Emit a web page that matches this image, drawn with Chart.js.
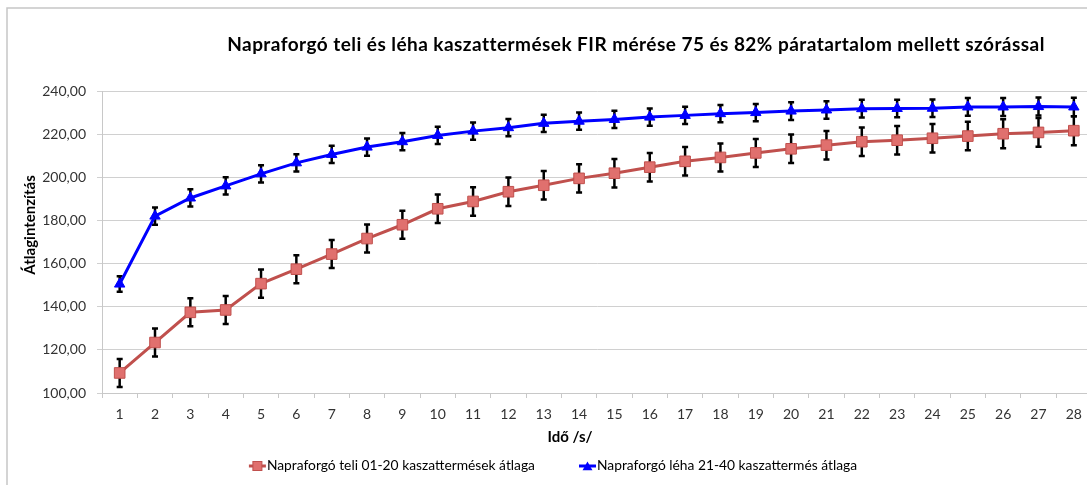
<!DOCTYPE html>
<html>
<head>
<meta charset="utf-8">
<script src="https://cdn.jsdelivr.net/npm/chart.js@4.4.0/dist/chart.umd.min.js"></script>
<style>
html, body { margin: 0; padding: 0; background: #fff; overflow: hidden; }
#wrap { width: 1100px; height: 485px; }
</style>
</head>
<body>
<div id="wrap"><canvas id="firChart" width="1100" height="485"></canvas></div>
<script>
// Napraforgó FIR mérés - chart data
const categories = ['1', '2', '3', '4', '5', '6', '7', '8', '9', '10', '11', '12', '13', '14',
    '15', '16', '17', '18', '19', '20', '21', '22', '23', '24', '25', '26', '27', '28'];

const teliValues = [109.3, 123.4, 137.4, 138.5, 150.7, 157.4, 164.4, 171.6, 178.0, 185.4,
    188.8, 193.3, 196.3, 199.5, 201.9, 204.7, 207.4, 209.2, 211.3, 213.2,
    214.9, 216.5, 217.2, 218.1, 219.1, 220.2, 220.8, 221.6];
const teliErrors = [6.5, 6.5, 6.5, 6.5, 6.6, 6.5, 6.5, 6.5, 6.5, 6.6,
    6.6, 6.6, 6.6, 6.6, 6.6, 6.6, 6.6, 6.5, 6.5, 6.6,
    6.6, 6.6, 6.6, 6.6, 6.6, 6.7, 6.7, 6.7];

const lehaValues = [150.5, 182.0, 190.4, 196.0, 201.6, 206.7, 210.6, 214.0, 216.5, 219.4,
    221.4, 223.0, 225.0, 226.0, 226.8, 227.9, 228.7, 229.5, 230.0, 230.7,
    231.2, 231.8, 231.9, 232.0, 232.6, 232.6, 232.8, 232.6];
const lehaErrors = [3.6, 4.0, 4.0, 4.0, 4.0, 4.0, 4.0, 4.0, 4.0, 4.0,
    4.0, 4.0, 4.0, 4.0, 4.0, 4.0, 4.0, 4.0, 4.0, 4.1,
    4.1, 4.1, 4.1, 4.1, 4.1, 4.2, 4.2, 4.3];

const yTickValues = [100, 120, 140, 160, 180, 200, 220, 240];

const FONT = 'Lato, "Open Sans", sans-serif';
const RED = '#C0504D';
const RED_FILL = '#E0706E';
const BLUE = '#0000FF';

/**
 * Marker helpers (legend needs line + marker like Excel)
 */
function drawSquare(ctx, x, y, half, fill, stroke) {
    ctx.fillStyle = fill;
    ctx.strokeStyle = stroke;
    ctx.lineWidth = 1;
    ctx.fillRect(x - half, y - half, half * 2, half * 2);
    ctx.strokeRect(x - half, y - half, half * 2, half * 2);
}

function drawTriangle(ctx, x, y, r, fill) {
    ctx.fillStyle = fill;
    ctx.beginPath();
    ctx.moveTo(x, y - r);
    ctx.lineTo(x + r * 0.9, y + r * 0.6);
    ctx.lineTo(x - r * 0.9, y + r * 0.6);
    ctx.closePath();
    ctx.fill();
}

/**
 * Frame, titles, legend and error bars
 */
const decorPlugin = {
    id: 'decor',
    beforeDraw(chart) {
        const ctx = chart.ctx;
        ctx.save();
        ctx.fillStyle = '#fff';
        ctx.fillRect(0, 0, chart.width, chart.height);
        ctx.strokeStyle = '#c6c6c6';
        ctx.lineWidth = 1.5;
        ctx.beginPath();
        ctx.moveTo(7, chart.height);
        ctx.lineTo(7, 8);
        ctx.lineTo(chart.width, 8);
        ctx.stroke();
        ctx.restore();
    },
    beforeDatasetsDraw(chart) {
        const ctx = chart.ctx;
        const yScale = chart.scales.y;
        const errorSets = [teliErrors, lehaErrors];
        ctx.save();
        ctx.strokeStyle = '#000';
        ctx.lineWidth = 2.5;
        chart.data.datasets.forEach((ds, i) => {
            const meta = chart.getDatasetMeta(i);
            meta.data.forEach((pt, j) => {
                const v = ds.data[j];
                const err = errorSets[i][j];
                const yTop = yScale.getPixelForValue(v + err);
                const yBot = yScale.getPixelForValue(v - err);
                ctx.beginPath();
                ctx.moveTo(pt.x, yTop);
                ctx.lineTo(pt.x, yBot);
                ctx.moveTo(pt.x - 3, yTop);
                ctx.lineTo(pt.x + 3, yTop);
                ctx.moveTo(pt.x - 3, yBot);
                ctx.lineTo(pt.x + 3, yBot);
                ctx.stroke();
            });
        });
        ctx.restore();
    },
    afterDraw(chart) {
        const ctx = chart.ctx;
        ctx.save();
        ctx.fillStyle = '#000';
        ctx.textAlign = 'center';
        ctx.textBaseline = 'middle';
        ctx.font = 'bold 19px ' + FONT;
        ctx.letterSpacing = '0.45px';
        ctx.fillText('Napraforgó teli és léha kaszattermések FIR mérése 75 és 82% páratartalom mellett szórással', 636, 45);
        ctx.letterSpacing = '0px';

        ctx.font = 'bold 15px ' + FONT;
        ctx.fillText('Idő /s/', 570, 437);

        ctx.save();
        ctx.translate(30, 225);
        ctx.rotate(-Math.PI / 2);
        ctx.fillText('Átlagintenzítás', 0, 0);
        ctx.restore();

        // legend: short line with marker, then text
        const markW = 17;
        const gap = 44;
        const legendY = 466;
        ctx.font = '13.8px ' + FONT;
        ctx.textAlign = 'left';
        const items = chart.data.datasets.map((ds, i) => ({
            text: ds.label,
            color: i === 0 ? RED : BLUE,
            w: markW + 1 + ctx.measureText(ds.label).width
        }));
        const total = items.reduce((s, it) => s + it.w, 0) + gap * (items.length - 1);
        let x = 553 - total / 2;
        items.forEach((it, i) => {
            ctx.lineWidth = 3;
            ctx.strokeStyle = it.color;
            ctx.beginPath();
            ctx.moveTo(x, legendY);
            ctx.lineTo(x + markW, legendY);
            ctx.stroke();
            if (i === 0) {
                drawSquare(ctx, x + markW / 2, legendY, 4.5, RED_FILL, RED);
            } else {
                drawTriangle(ctx, x + markW / 2, legendY + 1, 5.5, BLUE);
            }
            ctx.fillStyle = '#000';
            ctx.fillText(it.text, x + markW + 1, legendY);
            x += it.w + gap;
        });
        ctx.restore();
    }
};

function initializeFirChart() {
    const canvas = document.getElementById('firChart');
    if (!canvas) return;

    new Chart(canvas.getContext('2d'), {
        type: 'line',
        data: {
            labels: categories,
            datasets: [
                {
                    label: 'Napraforgó teli 01-20 kaszattermések átlaga',
                    data: teliValues,
                    borderColor: RED,
                    borderWidth: 3,
                    tension: 0,
                    pointStyle: 'rect',
                    pointRadius: 7.5,
                    pointBackgroundColor: RED_FILL,
                    pointBorderColor: RED,
                    pointBorderWidth: 1
                },
                {
                    label: 'Napraforgó léha 21-40 kaszattermés átlaga',
                    data: lehaValues,
                    borderColor: BLUE,
                    borderWidth: 3,
                    tension: 0,
                    pointStyle: 'triangle',
                    pointRadius: 6,
                    pointBackgroundColor: BLUE,
                    pointBorderColor: BLUE,
                    pointBorderWidth: 1
                }
            ]
        },
        options: {
            responsive: false,
            animation: false,
            layout: {
                padding: { left: 7, right: 7, top: 91, bottom: 35.5 }
            },
            plugins: {
                title: { display: false },
                tooltip: { enabled: false },
                legend: { display: false }
            },
            scales: {
                x: {
                    offset: true,
                    afterFit(scale) { scale.height = 56.5; },
                    grid: {
                        offset: true,
                        drawOnChartArea: false,
                        drawTicks: true,
                        tickLength: 5,
                        color: '#c8c8c8'
                    },
                    border: { color: '#c8c8c8', width: 1 },
                    ticks: {
                        color: '#333',
                        padding: 8,
                        maxRotation: 0,
                        autoSkip: false,
                        font: { family: FONT, size: 14 }
                    }
                },
                y: {
                    min: 100,
                    max: 240,
                    afterFit(scale) { scale.width = 95; },
                    afterBuildTicks(scale) {
                        scale.ticks = yTickValues.map(v => ({ value: v }));
                    },
                    grid: {
                        color: '#d0d0d0',
                        tickLength: 5
                    },
                    border: { color: '#c8c8c8', width: 1 },
                    ticks: {
                        color: '#333',
                        padding: 11,
                        font: { family: FONT, size: 14 },
                        callback: v => v.toFixed(2).replace('.', ',')
                    }
                }
            }
        },
        plugins: [decorPlugin]
    });
}

document.addEventListener('DOMContentLoaded', function() {
    initializeFirChart();
});
</script>
</body>
</html>
